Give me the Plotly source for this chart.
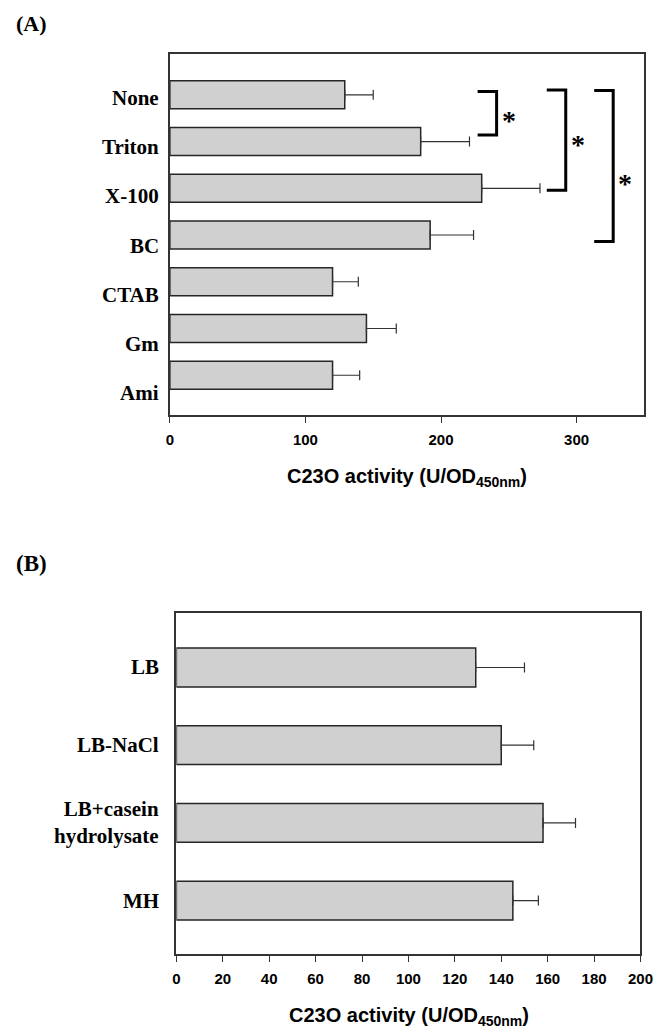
import plotly.graph_objects as go

# ---------------- data ----------------
cats_a = ["None", "Triton", "X-100", "BC", "CTAB", "Gm", "Ami"]
vals_a = [129, 185, 230, 192, 120, 145, 120]
errs_a = [21, 36, 43, 32, 19, 22, 20]
ticks_a = [0, 100, 200, 300]

cats_b = ["LB", "LB-NaCl", "LB+casein<br>hydrolysate", "MH"]
vals_b = [129, 140, 158, 145]
errs_b = [21, 14, 14, 11]
ticks_b = [0, 20, 40, 60, 80, 100, 120, 140, 160, 180, 200]

axis_title = "C23O activity (U/OD<sub>450nm</sub>)"

# significance brackets (panel A): vertical x level, y span, star position
bracket_x = [241, 292, 327]
bracket_span = [(-0.07, 0.86), (-0.10, 2.04), (-0.09, 3.14)]
star_pos = [(250, 0.39), (301, 0.92), (336, 1.75)]

# ---------------- styles / page geometry ----------------
BAR_FILL = "#d0d0d0"
EDGE = "#262626"
SERIF = "Liberation Serif"
SANS = "Liberation Sans"

OFF = 8                      # default page body margin
W, H = 672 - OFF, 1033 - OFF


def px(xp):                   # page x pixel -> paper fraction
    return (xp - OFF) / W


def py(yp):                   # page y pixel -> paper fraction
    return 1 - (yp - OFF) / H


fig = go.Figure()

fig.add_trace(go.Bar(
    x=vals_a, y=list(range(len(cats_a))), orientation="h", width=0.6,
    marker=dict(color=BAR_FILL, line=dict(color=EDGE, width=1.5)),
    error_x=dict(type="data", array=errs_a, arrayminus=[0] * len(errs_a),
                 symmetric=False, color="#333333", thickness=1.2, width=5),
    xaxis="x", yaxis="y", showlegend=False, hoverinfo="skip"))

fig.add_trace(go.Bar(
    x=vals_b, y=list(range(len(cats_b))), orientation="h", width=0.5,
    marker=dict(color=BAR_FILL, line=dict(color=EDGE, width=1.5)),
    error_x=dict(type="data", array=errs_b, arrayminus=[0] * len(errs_b),
                 symmetric=False, color="#333333", thickness=1.2, width=5),
    xaxis="x2", yaxis="y2", showlegend=False, hoverinfo="skip"))


def axis_common():
    return dict(showline=True, mirror=True, linecolor="#333333", linewidth=1.5,
                showgrid=False, zeroline=False)


tickfont = dict(family=SANS, size=15, color="black", weight="bold")

fig.update_layout(
    width=W, height=H,
    margin=dict(l=0, r=0, t=0, b=0),
    paper_bgcolor="white", plot_bgcolor="white",
    xaxis=dict(domain=[px(170), px(657)], range=[0, 350], tickvals=ticks_a,
               ticks="outside", ticklen=6, tickcolor="#333333", tickwidth=1.2,
               tickfont=tickfont, anchor="y", ticklabelstandoff=4, **axis_common()),
    yaxis=dict(domain=[py(415), py(54.3)], range=[6.85, -0.866],
               showticklabels=False, ticks="", anchor="x", **axis_common()),
    xaxis2=dict(domain=[px(176.7), px(653)], range=[0, 200], tickvals=ticks_b,
                ticks="outside", ticklen=6, tickcolor="#333333", tickwidth=1.2,
                tickfont=tickfont, anchor="y2", ticklabelstandoff=4, **axis_common()),
    yaxis2=dict(domain=[py(954), py(612.7)], range=[3.687, -0.705],
                showticklabels=False, ticks="", anchor="x2", **axis_common()),
)

ann = []
# category labels panel A (label spacing slightly larger than bar spacing)
for i, c in enumerate(cats_a):
    ann.append(dict(text="<b>%s</b>" % c, xref="paper", yref="y", x=px(161),
                    y=i * 1.0503 + 0.075, xanchor="right", yanchor="middle",
                    showarrow=False, font=dict(family=SERIF, size=21, color="black")))
for i, c in enumerate(cats_b):
    ann.append(dict(text="<b>%s</b>" % c, xref="paper", yref="y2", x=px(161),
                    y=i, xanchor="right", yanchor="middle", align="right",
                    showarrow=False, font=dict(family=SERIF, size=21, color="black")))

# axis titles
ann.append(dict(text="<b>%s</b>" % axis_title, xref="paper", yref="paper",
                x=px(413), y=py(478), xanchor="center", yanchor="middle",
                showarrow=False, font=dict(family=SANS, size=20, color="black")))
ann.append(dict(text="<b>%s</b>" % axis_title, xref="paper", yref="paper",
                x=px(415), y=py(1016), xanchor="center", yanchor="middle",
                showarrow=False, font=dict(family=SANS, size=20, color="black")))

# panel letters
ann.append(dict(text="<b>(A)</b>", xref="paper", yref="paper", x=px(10), y=py(8.5),
                xanchor="left", yanchor="top", showarrow=False,
                font=dict(family=SERIF, size=22, color="black")))
ann.append(dict(text="<b>(B)</b>", xref="paper", yref="paper", x=px(10), y=py(563),
                xanchor="left", yanchor="middle", showarrow=False,
                font=dict(family=SERIF, size=23, color="black")))

# significance stars
for sx, sy in star_pos:
    ann.append(dict(text="<b>*</b>", xref="x", yref="y", x=sx, y=sy,
                    xanchor="center", yanchor="middle", yshift=-7, showarrow=False,
                    font=dict(family=SERIF, size=28, color="black")))

shapes = []
arm = 14
for bx, (y0, y1) in zip(bracket_x, bracket_span):
    shapes.append(dict(type="path", xref="x", yref="y",
                       path="M %f,%f L %f,%f L %f,%f L %f,%f" % (bx - arm, y0, bx, y0, bx, y1, bx - arm, y1),
                       line=dict(color="black", width=3)))

fig.update_layout(annotations=ann, shapes=shapes)

fig.write_html("out.html")
